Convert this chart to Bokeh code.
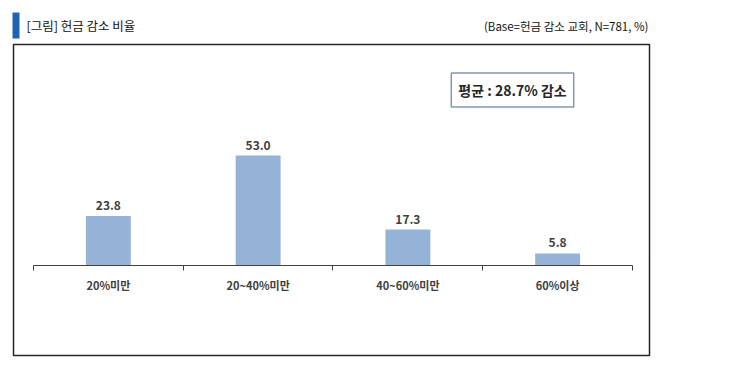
from bokeh.plotting import figure
from bokeh.models import Range1d, LinearAxis, FixedTicker, Label, ColumnDataSource, BoxAnnotation
from bokeh.core.properties import value
from bokeh.embed import file_html
from bokeh.resources import INLINE

categories = ["20%미만", "20~40%미만", "40~60%미만", "60%이상"]
values = [23.8, 53.0, 17.3, 5.8]
value_labels = ["23.8", "53.0", "17.3", "5.8"]
title_text = "[그림] 헌금 감소 비율"
base_text = "(Base=헌금 감소 교회, N=781, %)"
mean_text = "평균 : 28.7% 감소"

FONT = "Noto Sans CJK KR"
W, H = 715, 357
positions = [i + 0.5 for i in range(len(categories))]
src = ColumnDataSource(dict(x=positions, top=values, lab=value_labels))

p = figure(width=W, height=H, output_backend="svg", toolbar_location=None,
           x_range=Range1d(-0.2204, 4.5543), y_range=Range1d(-44.34, 127.71),
           min_border=0, x_axis_location=None, y_axis_location=None)
p.xgrid.visible = False
p.ygrid.visible = False
p.outline_line_color = None
p.background_fill_color = "white"
p.border_fill_color = "white"

# outer chart box and title marker
p.add_layout(BoxAnnotation(left=13, right=649, bottom=H - 355, top=H - 44,
                           left_units="screen", right_units="screen",
                           bottom_units="screen", top_units="screen",
                           fill_color=None, line_color="#262626", line_alpha=1,
                           line_width=1.5))
p.add_layout(BoxAnnotation(left=12, right=19, bottom=H - 38, top=H - 12,
                           left_units="screen", right_units="screen",
                           bottom_units="screen", top_units="screen",
                           fill_color="#1F64B0", fill_alpha=1, line_color=None))

p.vbar(x="x", top="top", bottom=0, width=0.3, source=src, fill_color="#95B3D7", line_color=None)
p.text(x="x", y="top", text="lab", source=src, text_align="center", text_baseline="bottom",
       y_offset=-6, text_font=value(FONT), text_font_size="12px", text_font_style="bold",
       text_color="#404040")

ax = LinearAxis(fixed_location=0, bounds=(0, 4),
                ticker=FixedTicker(ticks=positions, minor_ticks=[0, 1, 2, 3, 4]),
                major_label_overrides={pos: c for pos, c in zip(positions, categories)})
ax.major_tick_line_color = None
ax.minor_tick_out = 5
ax.minor_tick_in = 0
ax.minor_tick_line_color = "#404040"
ax.axis_line_color = "#404040"
ax.axis_line_width = 1
ax.major_label_text_font = FONT
ax.major_label_text_font_size = "11px"
ax.major_label_text_font_style = "bold"
ax.major_label_text_color = "#404040"
ax.major_label_standoff = 6
p.add_layout(ax, "below")

p.add_layout(Label(x=26, y=H - 25, x_units="screen", y_units="screen", text=title_text,
                   text_font=FONT, text_font_size="12.5px", text_baseline="middle",
                   text_color="#111111"))
p.add_layout(Label(x=648, y=H - 25, x_units="screen", y_units="screen", text=base_text,
                   text_font=FONT, text_font_size="11.5px", text_baseline="middle",
                   text_align="right", text_color="#111111"))
p.add_layout(Label(x=512, y=H - 89.5, x_units="screen", y_units="screen", text=mean_text,
                   text_font=FONT, text_font_size="14px", text_font_style="bold",
                   text_baseline="middle", text_align="center", text_color="#262626",
                   border_line_color="#8496B0", border_line_width=1.5,
                   background_fill_color="white", padding=7))

html = file_html(p, INLINE)
open("out.html", "w").write(html)
